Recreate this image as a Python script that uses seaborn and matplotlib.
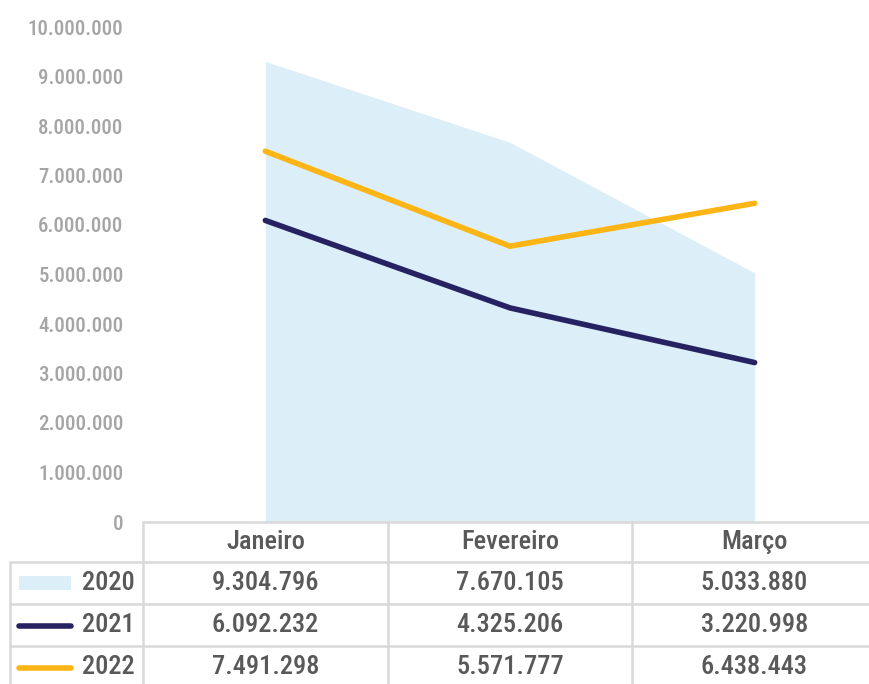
import matplotlib
matplotlib.use("Agg")
import matplotlib.pyplot as plt
from matplotlib import font_manager
from matplotlib.lines import Line2D
from matplotlib.patches import Rectangle
import seaborn as sns
import pandas as pd

months = ["Janeiro", "Fevereiro", "Março"]
years = ["2020", "2021", "2022"]
v2020 = [9304796, 7670105, 5033880]
v2021 = [6092232, 4325206, 3220998]
v2022 = [7491298, 5571777, 6438443]
yticks = [0, 1000000, 2000000, 3000000, 4000000, 5000000, 6000000, 7000000, 8000000, 9000000, 10000000]

sns.set_theme(style="white")
avail = {f.name for f in font_manager.fontManager.ttflist}
fam = "DejaVu Sans"
for cand in ["Liberation Sans Narrow", "Roboto Condensed", "Open Sans Condensed", "DejaVu Sans Condensed", "Roboto"]:
    if cand in avail:
        fam = cand
        break
plt.rcParams["font.family"] = [fam, "DejaVu Sans"]
plt.rcParams["font.weight"] = "medium"

c_area = "#DCEEF8"
c_2021 = "#262262"
c_2022 = "#FDB515"
grid_c = "#D9D9D9"
txt_c = "#595959"

W, H = 870, 684
fig = plt.figure(figsize=(W / 100, H / 100), dpi=100)

def fx(x):
    return x / W

def fy(y):
    return 1 - y / H

ax_left, ax_right, ax_top, ax_bot = 143, 877, 27, 522
ax = fig.add_axes([fx(ax_left), fy(ax_bot), fx(ax_right - ax_left), (ax_bot - ax_top) / H])

df = pd.DataFrame({"mes": months, "x": [0, 1, 2], "2020": v2020, "2021": v2021, "2022": v2022})
ax.fill_between(df["x"], 0, df["2020"], color=c_area, linewidth=0)
sns.lineplot(data=df, x="x", y="2021", ax=ax, color=c_2021, linewidth=4, solid_capstyle="round", solid_joinstyle="miter")
sns.lineplot(data=df, x="x", y="2022", ax=ax, color=c_2022, linewidth=4, solid_capstyle="round", solid_joinstyle="miter")

ax.set_xlim(-0.5, 2.5)
ax.set_ylim(0, 10000000)
ax.set_xticks([])
ax.set_yticks(yticks)
ax.set_yticklabels([f"{v:,}".replace(",", ".") for v in yticks])
ax.tick_params(axis="y", length=0, pad=14, labelsize=15, labelcolor="#A5A5A5")
ax.set_xlabel("")
ax.set_ylabel("")
for s in ax.spines.values():
    s.set_visible(False)
ax.patch.set_alpha(0)

# data table
col_edges = [10, 143, 388, 632, 877]
row_edges = [522, 562, 604, 646, 688]
lw = 1.8

def hline(y, x0, x1):
    fig.add_artist(Line2D([fx(x0), fx(x1)], [fy(y), fy(y)], color=grid_c, linewidth=lw))

def vline(x, y0, y1):
    fig.add_artist(Line2D([fx(x), fx(x)], [fy(y0), fy(y1)], color=grid_c, linewidth=lw))

hline(row_edges[0], col_edges[1], col_edges[-1])
for y in row_edges[1:]:
    hline(y, col_edges[0], col_edges[-1])
vline(col_edges[0], row_edges[1], row_edges[-1])
for x in col_edges[1:]:
    vline(x, row_edges[0], row_edges[-1])

fs_tab = 19
for j, m in enumerate(months):
    cx = (col_edges[j + 1] + col_edges[j + 2]) / 2
    cy = (row_edges[0] + row_edges[1]) / 2
    fig.text(fx(cx), fy(cy), m, ha="center", va="center", fontsize=fs_tab, color=txt_c)

series = [v2020, v2021, v2022]
for i, (yr, vals) in enumerate(zip(years, series)):
    cy = (row_edges[i + 1] + row_edges[i + 2]) / 2
    fig.text(fx(135), fy(cy), yr, ha="right", va="center", fontsize=fs_tab, color=txt_c)
    for j, v in enumerate(vals):
        cx = (col_edges[j + 1] + col_edges[j + 2]) / 2
        fig.text(fx(cx), fy(cy), f"{v:,}".replace(",", "."), ha="center", va="center", fontsize=fs_tab, color=txt_c)

# legend keys
cy0 = (row_edges[1] + row_edges[2]) / 2
fig.add_artist(Rectangle((fx(19), fy(cy0 + 7)), fx(71 - 19), (14) / H, color=c_area, linewidth=0))
for i, c in [(1, c_2021), (2, c_2022)]:
    cy = (row_edges[i + 1] + row_edges[i + 2]) / 2 + 1
    fig.add_artist(Line2D([fx(19), fx(71)], [fy(cy), fy(cy)], color=c, linewidth=4, solid_capstyle="round"))

fig.savefig("out.png", dpi=100)
